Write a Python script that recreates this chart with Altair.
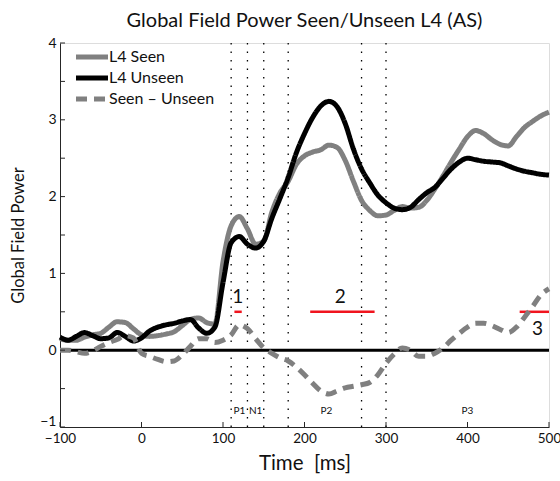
import altair as alt
import pandas as pd

# ---- data ----
times = list(range(-100, 501, 10))

seen = [0.15, 0.13, 0.13, 0.17, 0.20, 0.22, 0.30, 0.37, 0.36, 0.28,
        0.20, 0.18, 0.19, 0.21, 0.24, 0.32, 0.40, 0.42, 0.36, 0.34,
        1.15, 1.62, 1.74, 1.58, 1.38, 1.42, 1.80, 2.05, 2.20, 2.42,
        2.53, 2.58, 2.61, 2.67, 2.64, 2.47, 2.20, 1.95, 1.82, 1.75,
        1.76, 1.82, 1.87, 1.85, 1.86, 1.95, 2.10, 2.27, 2.45, 2.62,
        2.78, 2.86, 2.82, 2.74, 2.68, 2.66, 2.78, 2.90, 2.98, 3.05,
        3.10]

unseen = [0.17, 0.13, 0.18, 0.23, 0.19, 0.15, 0.16, 0.23, 0.18, 0.12,
          0.16, 0.25, 0.30, 0.33, 0.35, 0.38, 0.40, 0.29, 0.22, 0.30,
          0.88, 1.40, 1.48, 1.38, 1.33, 1.42, 1.72, 1.98, 2.25, 2.57,
          2.82, 3.03, 3.18, 3.24, 3.17, 2.95, 2.62, 2.36, 2.18, 2.02,
          1.92, 1.85, 1.83, 1.86, 1.96, 2.05, 2.12, 2.24, 2.36, 2.45,
          2.50, 2.48, 2.46, 2.45, 2.44, 2.40, 2.36, 2.33, 2.31, 2.29,
          2.28]

diff = [0.00, 0.00, -0.02, -0.04, -0.01, 0.05, 0.10, 0.14, 0.19, 0.16,
        -0.04, -0.08, -0.12, -0.15, -0.14, -0.06, 0.05, 0.15, 0.15, 0.10,
        0.13, 0.20, 0.33, 0.28, 0.15, 0.03, -0.04, -0.10, -0.14, -0.22,
        -0.32, -0.43, -0.53, -0.57, -0.53, -0.49, -0.47, -0.45, -0.42, -0.32,
        -0.17, -0.05, 0.03, 0.00, -0.08, -0.08, -0.04, 0.03, 0.13, 0.22,
        0.30, 0.35, 0.35, 0.32, 0.27, 0.23, 0.30, 0.43, 0.57, 0.72,
        0.80]

series_names = ["L4 Seen", "L4 Unseen", "Seen \u2013 Unseen"]
series_colors = ["#808080", "#000000", "#808080"]

marker_times = [110, 130, 150, 180, 270, 300]
component_names = ["P1", "N1", "P2", "P3"]
component_times = [120, 140, 227, 400]
component_level = -0.79

sig_start = [114, 207, 464]
sig_end = [123, 286, 500]
sig_level = 0.5
sig_labels = ["1", "2", "3"]
sig_label_x = [118, 244, 486]
sig_label_y = [0.69, 0.69, 0.27]

x_ticks = [-100, 0, 100, 200, 300, 400, 500]
y_ticks = [-1, -0.5, 0, 0.5, 1, 1.5, 2, 2.5, 3, 3.5, 4]

# ---- tables ----
rows = []
for name, vals in zip(series_names, [seen, unseen, diff]):
    for t, v in zip(times, vals):
        rows.append({"time": t, "value": v, "series": name})
df = pd.DataFrame(rows)

W, H = 489, 384
FONT = "Lato"
MINUS = "replace(datum.label, '-', '\u2212')"

xs = alt.Scale(domain=[-100, 500], nice=False, zero=False)
ys = alt.Scale(domain=[-1, 4], nice=False, zero=False)

base_x_axis = alt.Axis(values=x_ticks, ticks=False, grid=False, domainColor="#262626",
                       labelFontSize=13.5, labelColor="#111", labelPadding=4, labelFlush=False,
                       labelExpr=MINUS,
                       title="Time\u00a0\u00a0[ms]", titleFontSize=20.5, titleFontWeight="normal",
                       titleColor="#111", titlePadding=9, labelFont=FONT, titleFont=FONT)
base_y_axis = alt.Axis(values=y_ticks, ticks=False, grid=False, domainColor="#262626",
                       labelFontSize=14, labelColor="#111", labelPadding=4, format="~g",
                       labelExpr=MINUS,
                       labelOffset={"condition": {"test": "datum.value == -1", "value": -6}, "value": 0},
                       title="Global Field Power", titleFontSize=16.5, titleFontWeight="normal",
                       titleColor="#111", titlePadding=13, labelFont=FONT, titleFont=FONT)

# zero line
zero_df = pd.DataFrame({"t0": [-100], "t1": [500], "v": [0]})
zero = alt.Chart(zero_df).mark_rule(color="black", strokeWidth=3).encode(
    x=alt.X("t0:Q", scale=xs, axis=base_x_axis),
    x2="t1:Q",
    y=alt.Y("v:Q", scale=ys, axis=base_y_axis),
)

# dotted markers
mark_df = pd.DataFrame({"t": marker_times, "lo": [-1] * len(marker_times), "hi": [4] * len(marker_times)})
markers = alt.Chart(mark_df).mark_rule(color="black", strokeWidth=1.3, strokeDash=[1.5, 7]).encode(
    x=alt.X("t:Q", scale=xs), y=alt.Y("lo:Q", scale=ys), y2="hi:Q"
)

comp_df = pd.DataFrame({"t": component_times, "v": [component_level] * 4, "name": component_names})
comps = alt.Chart(comp_df).mark_text(font=FONT, fontSize=10, color="#111", baseline="middle").encode(
    x=alt.X("t:Q", scale=xs), y=alt.Y("v:Q", scale=ys), text="name:N"
)

lines = alt.Chart(df).mark_line(strokeWidth=5, interpolate="monotone", strokeCap="butt",
                                strokeJoin="round").encode(
    x=alt.X("time:Q", scale=xs),
    y=alt.Y("value:Q", scale=ys),
    color=alt.Color("series:N", scale=alt.Scale(domain=series_names, range=series_colors),
                    sort=series_names, title=None,
                    legend=alt.Legend(orient="none", legendX=24, legendY=6, padding=0,
                                      symbolType="M-3.2,0H3.2", symbolSize=100,
                                      symbolStrokeWidth=5, labelFont=FONT,
                                      labelFontSize=16, labelColor="#111", rowPadding=1,
                                      labelOffset=9)),
    strokeDash=alt.StrokeDash("series:N", scale=alt.Scale(domain=series_names,
                                                         range=[[1, 0], [1, 0], [11, 7]]),
                              sort=series_names, title=None),
    order=alt.Order("time:Q"),
)

sig_df = pd.DataFrame({"a": sig_start, "b": sig_end, "v": [sig_level] * 3})
sig = alt.Chart(sig_df).mark_rule(color="#f0141e", strokeWidth=2.5).encode(
    x=alt.X("a:Q", scale=xs), x2="b:Q", y=alt.Y("v:Q", scale=ys)
)
sig_txt_df = pd.DataFrame({"t": sig_label_x, "v": sig_label_y, "lab": sig_labels})
sig_txt = alt.Chart(sig_txt_df).mark_text(font=FONT, fontSize=19, color="#111", baseline="middle").encode(
    x=alt.X("t:Q", scale=xs), y=alt.Y("v:Q", scale=ys), text="lab:N"
)

# inward ticks
xt_df = pd.DataFrame({"t": x_ticks})
xticks = alt.Chart(xt_df).mark_rule(color="#262626", strokeWidth=1).encode(
    x=alt.X("t:Q", scale=xs), y=alt.value(H), y2=alt.value(H - 5)
)
yt_df = pd.DataFrame({"v": y_ticks})
yticks = alt.Chart(yt_df).mark_rule(color="#262626", strokeWidth=1).encode(
    y=alt.Y("v:Q", scale=ys), x=alt.value(0), x2=alt.value(5)
)

chart = alt.layer(zero, markers, comps, sig, sig_txt, lines, xticks, yticks).properties(
    width=W, height=H,
    title=alt.TitleParams("Global Field Power Seen/Unseen L4 (AS)", font=FONT, fontSize=20,
                          fontWeight="normal", color="#111", anchor="middle", offset=5),
    autosize=alt.AutoSizeParams(type="none"),
    padding={"left": 60, "top": 43, "right": 11, "bottom": 54},
).configure_view(stroke=None).configure(background="white")

chart.save("out.html", embed_options={"renderer": "svg", "actions": False})
